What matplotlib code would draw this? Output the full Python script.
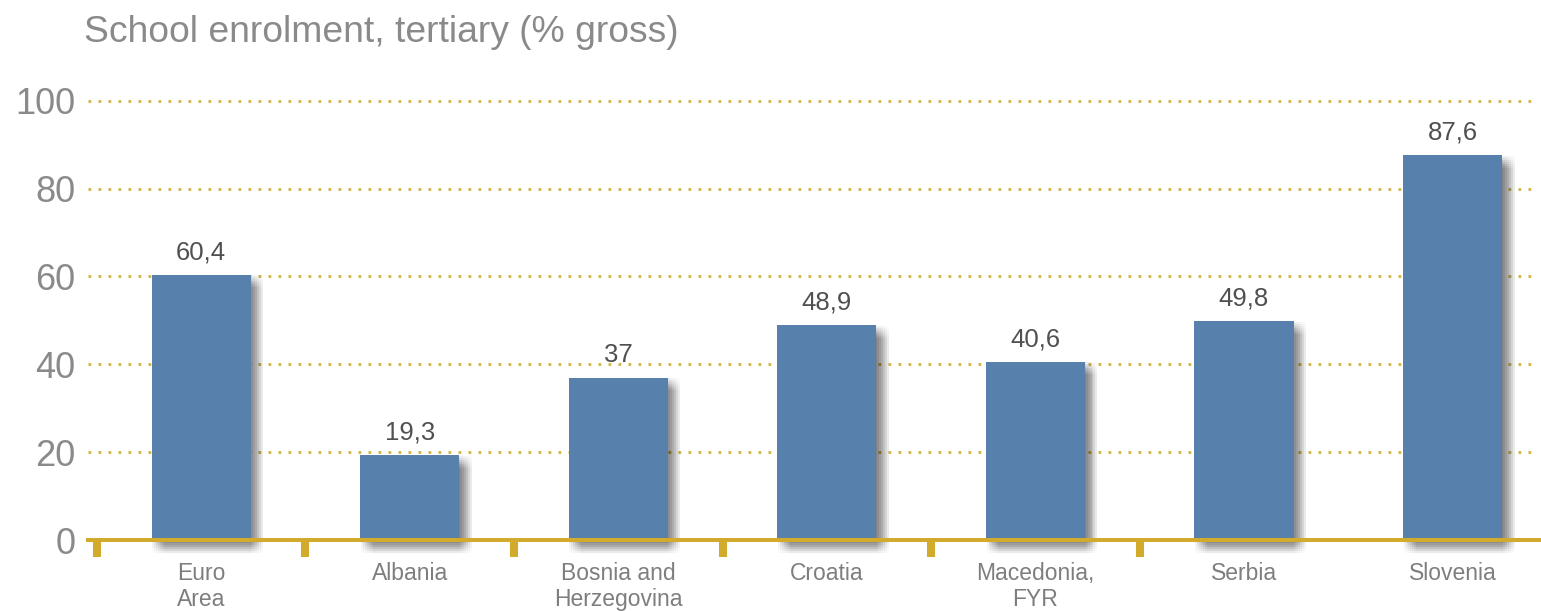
import numpy as np
import matplotlib
matplotlib.use("Agg")
import matplotlib.pyplot as plt
import matplotlib.patheffects as pe

plt.rcParams['font.family'] = ['Liberation Sans', 'DejaVu Sans']

countries = ['Euro\nArea', 'Albania', 'Bosnia and\nHerzegovina', 'Croatia',
             'Macedonia,\nFYR', 'Serbia', 'Slovenia']
enrolment = [60.4, 19.3, 37.0, 48.9, 40.6, 49.8, 87.6]
value_labels = ['60,4', '19,3', '37', '48,9', '40,6', '49,8', '87,6']
y_ticks = [0, 20, 40, 60, 80, 100]

BAR = '#5880ac'
GOLD = '#d3ab2c'
GRID = '#d0b444'
GREY = '#8a8a8a'

W, H = 1541, 611
fig = plt.figure(figsize=(W / 100, H / 100), dpi=100)
ax = fig.add_axes([88 / W, (H - 540) / H, (W - 88) / W, (540 - 96) / H])

x = np.arange(len(countries))

# soft drop shadow: many faint offset copies act as a box blur
offs = np.linspace(0.5, 9.0, 7)
shadow = [pe.SimplePatchShadow(offset=(dx, -dy), shadow_rgbFace='#000000', alpha=0.012)
          for dx in offs for dy in offs]
bars = ax.bar(x, enrolment, width=0.475, color=BAR, zorder=2, clip_on=False,
              path_effects=shadow + [pe.Normal()])

for xi, v, lab in zip(x, enrolment, value_labels):
    ax.text(xi, v + 2.4, lab, ha='center', va='bottom', fontsize=18.5, color='#505050')

for yt in y_ticks[1:]:
    ax.plot([-0.542, 6.395], [yt, yt], color=GRID, lw=2.0,
            linestyle=(0, (1, 2.6)), dash_capstyle='butt', zorder=0)

ax.set_xlim(-0.542, 6.424)
ax.set_ylim(0, 101.1)

for s in ('top', 'right', 'left'):
    ax.spines[s].set_visible(False)
ax.spines['bottom'].set_color(GOLD)
ax.spines['bottom'].set_linewidth(2.9)
ax.spines['bottom'].set_zorder(3)

ax.set_yticks(y_ticks)
ax.set_yticklabels([str(t) for t in y_ticks])
ax.tick_params(axis='y', length=0, pad=9, labelsize=26, labelcolor=GREY)

ax.set_xticks(x)
ax.set_xticklabels(countries, fontsize=16.5, color='#7e7e7e', linespacing=1.15)
ax.tick_params(axis='x', which='major', length=0, pad=16)
ax.set_xticks(np.arange(len(countries) - 1) - 0.5, minor=True)
ax.tick_params(axis='x', which='minor', direction='out', length=12, width=5.8, color=GOLD)

fig.text(84 / W, 1 - 32 / H, 'School enrolment, tertiary (% gross)', fontsize=26.8,
         color=GREY, ha='left', va='center')

fig.savefig('out.png', dpi=100, facecolor='white')
